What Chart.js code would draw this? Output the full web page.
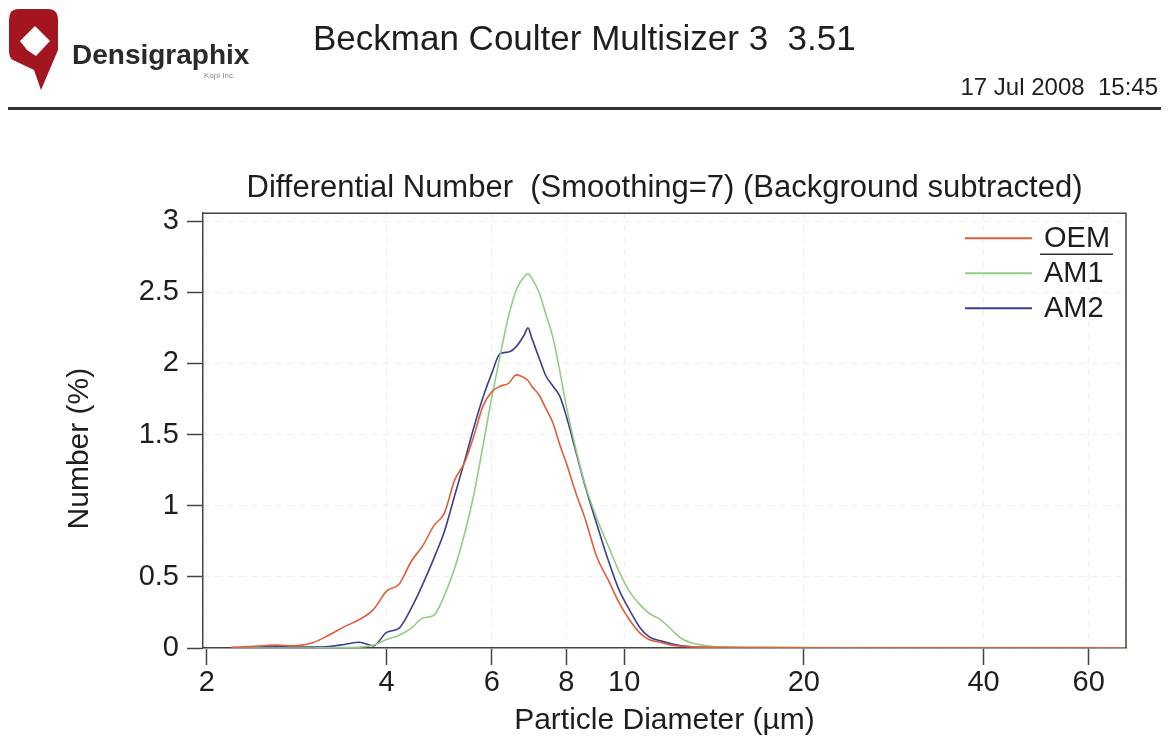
<!DOCTYPE html>
<html>
<head>
<meta charset="utf-8">
<title>Differential Number</title>
<script src="https://cdn.jsdelivr.net/npm/chart.js@4.4.1/dist/chart.umd.min.js"></script>
<style>
  html, body { margin: 0; padding: 0; background: #fff; }
  #wrap { width: 1171px; height: 756px; }
</style>
</head>
<body>
<div id="wrap"><canvas id="myChart" width="1171" height="756"></canvas></div>
<script>
// Diametri delle particelle (um) e valori (%)
const diameters = [2.2, 2.4, 2.6, 2.8, 3.0, 3.2, 3.4, 3.6, 3.8, 4.0,
                   4.2, 4.4, 4.6, 4.8, 5.0, 5.2, 5.4, 5.6, 5.8, 6.0,
                   6.2, 6.4, 6.6, 6.8, 6.9, 7.0, 7.2, 7.4, 7.6, 7.8, 8.0,
                   8.3, 8.6, 9.0, 9.4, 9.8, 10.2, 10.6, 11.0, 11.5, 12.0, 12.5, 13,
                   14, 15, 16, 18, 20, 25, 30, 40, 50, 60, 69];

const oemValues = [0.005, 0.012, 0.02, 0.015, 0.035, 0.09, 0.15, 0.2, 0.27, 0.4,
                   0.45, 0.61, 0.72, 0.86, 0.95, 1.18, 1.3, 1.49, 1.7, 1.8,
                   1.84, 1.86, 1.92, 1.9, 1.88, 1.84, 1.78, 1.68, 1.58, 1.43, 1.3,
                   1.09, 0.91, 0.64, 0.48, 0.32, 0.2, 0.11, 0.06, 0.04, 0.02, 0.012, 0.008,
                   0.005, 0.004, 0.003, 0.003, 0.002, 0.002, 0.002, 0.001, 0.001, 0.001, 0];

const am1Values = [0, 0, 0, 0, 0, 0.002, 0.003, 0.006, 0.02, 0.06,
                   0.09, 0.14, 0.21, 0.23, 0.37, 0.56, 0.8, 1.08, 1.42, 1.76,
                   2.06, 2.33, 2.52, 2.61, 2.63, 2.6, 2.5, 2.34, 2.18, 1.95, 1.7,
                   1.4, 1.15, 0.91, 0.72, 0.54, 0.4, 0.31, 0.245, 0.2, 0.13, 0.065, 0.035,
                   0.012, 0.007, 0.005, 0.004, 0.003, 0.002, 0.002, 0.001, 0.001, 0.001, 0];

const am2Values = [0, 0.005, 0.01, 0.006, 0.006, 0.01, 0.025, 0.04, 0.015, 0.11,
                   0.14, 0.28, 0.45, 0.63, 0.82, 1.07, 1.31, 1.55, 1.76, 1.93,
                   2.07, 2.08, 2.12, 2.2, 2.25, 2.18, 2.04, 1.91, 1.84, 1.77, 1.63,
                   1.38, 1.14, 0.87, 0.62, 0.41, 0.27, 0.15, 0.08, 0.05, 0.03, 0.015, 0.008,
                   0.004, 0.003, 0.002, 0.002, 0.001, 0.001, 0.001, 0.001, 0, 0, 0];

const seriesNames = ['OEM', 'AM1', 'AM2'];
const seriesColors = ['#e05e3c', '#93cc84', '#3b3f8e'];

const xTicks = [2, 4, 6, 8, 10, 20, 40, 60];
const yTicks = [0, 0.5, 1, 1.5, 2, 2.5, 3];

const FONT = '"Liberation Sans", Arial, sans-serif';
const INK = '#1e1e1e';
const AXIS = '#444';
const GRID = '#efefef';

Chart.defaults.font.family = FONT;
Chart.defaults.color = INK;

function toPoints(values) {
    return values.map((v, i) => ({ x: diameters[i], y: v }));
}

// Intestazione: logo, strumento, data e riga
const headerPlugin = {
    id: 'header',
    beforeDraw(chart) {
        const c = chart.ctx;
        c.save();
        // logo
        c.fillStyle = '#a3161f';
        c.beginPath();
        c.moveTo(18, 9);
        c.lineTo(48, 9);
        c.quadraticCurveTo(58, 9, 58, 20);
        c.lineTo(58, 50);
        c.lineTo(41, 90);
        c.lineTo(34, 70);
        c.lineTo(13, 60);
        c.quadraticCurveTo(9, 58, 9, 50);
        c.lineTo(9, 20);
        c.quadraticCurveTo(9, 9, 18, 9);
        c.fill();
        c.fillStyle = '#fff';
        c.beginPath();
        c.moveTo(35, 26);
        c.lineTo(50, 41);
        c.lineTo(36, 56);
        c.lineTo(27, 50);
        c.lineTo(20, 41);
        c.closePath();
        c.fill();

        c.textBaseline = 'alphabetic';
        c.fillStyle = '#2a2a2a';
        c.font = 'bold 28px ' + FONT;
        c.fillText('Densigraphix', 72, 64);
        c.fillStyle = '#888';
        c.font = '8px ' + FONT;
        c.fillText('Kopi Inc.', 204, 78);

        c.fillStyle = INK;
        c.font = '35px ' + FONT;
        c.fillText('Beckman Coulter Multisizer 3  3.51', 313, 50);
        c.font = '24px ' + FONT;
        c.textAlign = 'right';
        c.fillText('17 Jul 2008  15:45', 1158, 95);

        c.fillStyle = '#333';
        c.fillRect(8, 107, 1153, 3);
        c.restore();
    }
};

// Cornice superiore/destra, titolo asse y e legenda nell'angolo del grafico
const framePlugin = {
    id: 'frame',
    afterDraw(chart) {
        const c = chart.ctx;
        const a = chart.chartArea;
        c.save();
        c.strokeStyle = AXIS;
        c.lineWidth = 1.5;
        c.beginPath();
        c.moveTo(a.left, a.top);
        c.lineTo(a.right, a.top);
        c.lineTo(a.right, a.bottom);
        c.stroke();

        // titolo asse y, leggermente sotto il centro come nell'originale
        c.save();
        c.translate(80, (a.top + a.bottom) / 2 + 18);
        c.rotate(-Math.PI / 2);
        c.font = '30px ' + FONT;
        c.fillStyle = INK;
        c.textAlign = 'center';
        c.textBaseline = 'middle';
        c.fillText('Number (%)', 0, 0);
        c.restore();

        c.font = '29px ' + FONT;
        c.textBaseline = 'middle';
        c.textAlign = 'left';
        chart.data.datasets.forEach((ds, i) => {
            const y = a.top + 25 + i * 35;
            c.strokeStyle = ds.borderColor;
            c.lineWidth = 2;
            c.beginPath();
            c.moveTo(a.right - 161, y);
            c.lineTo(a.right - 94, y);
            c.stroke();
            c.fillStyle = INK;
            c.fillText(ds.label, a.right - 82, y + 1);
        });
        c.strokeStyle = '#333';
        c.lineWidth = 1.5;
        c.beginPath();
        c.moveTo(a.right - 86, a.top + 41);
        c.lineTo(a.right - 13, a.top + 41);
        c.stroke();
        c.restore();
    }
};

const ctx = document.getElementById('myChart').getContext('2d');

const myChart = new Chart(ctx, {
    type: 'line',
    data: {
        datasets: [oemValues, am1Values, am2Values].map((vals, i) => ({
            label: seriesNames[i],
            data: toPoints(vals),
            borderColor: seriesColors[i],
            borderWidth: 1.6,
            pointRadius: 0,
            fill: false,
            cubicInterpolationMode: 'monotone'
        }))
    },
    options: {
        responsive: false,
        animation: false,
        devicePixelRatio: 1,
        layout: { padding: { top: 170, right: 45, bottom: 0, left: 0 } },
        plugins: {
            legend: { display: false },
            tooltip: { enabled: false },
            title: {
                display: true,
                fullSize: false,
                text: 'Differential Number  (Smoothing=7) (Background subtracted)',
                font: { size: 31, weight: 'normal' },
                color: INK,
                padding: { top: 0, bottom: 6 }
            }
        },
        scales: {
            x: {
                type: 'logarithmic',
                min: 1.97,
                max: 69.3,
                afterBuildTicks: s => { s.ticks = xTicks.map(v => ({ value: v })); },
                afterFit: s => { s.height = 108; },
                ticks: {
                    font: { size: 29 },
                    padding: 1,
                    autoSkip: false,
                    maxRotation: 0,
                    callback: v => String(v)
                },
                grid: { color: GRID, lineWidth: 1, tickColor: AXIS, tickLength: 17, tickWidth: 1.5 },
                border: { color: AXIS, width: 1.5, dash: [6, 6] },
                title: {
                    display: true,
                    text: 'Particle Diameter (µm)',
                    font: { size: 30 },
                    padding: { top: 0, bottom: 17 }
                }
            },
            y: {
                min: 0,
                max: 3.056,
                afterBuildTicks: s => { s.ticks = yTicks.map(v => ({ value: v })); },
                afterFit: s => { s.width = 203; },
                ticks: {
                    font: { size: 29 },
                    padding: 8,
                    callback: v => String(v)
                },
                grid: { color: GRID, lineWidth: 1, tickColor: AXIS, tickLength: 16, tickWidth: 1.5 },
                border: { color: AXIS, width: 1.5, dash: [6, 6] }
            }
        }
    },
    plugins: [headerPlugin, framePlugin]
});
</script>
</body>
</html>
